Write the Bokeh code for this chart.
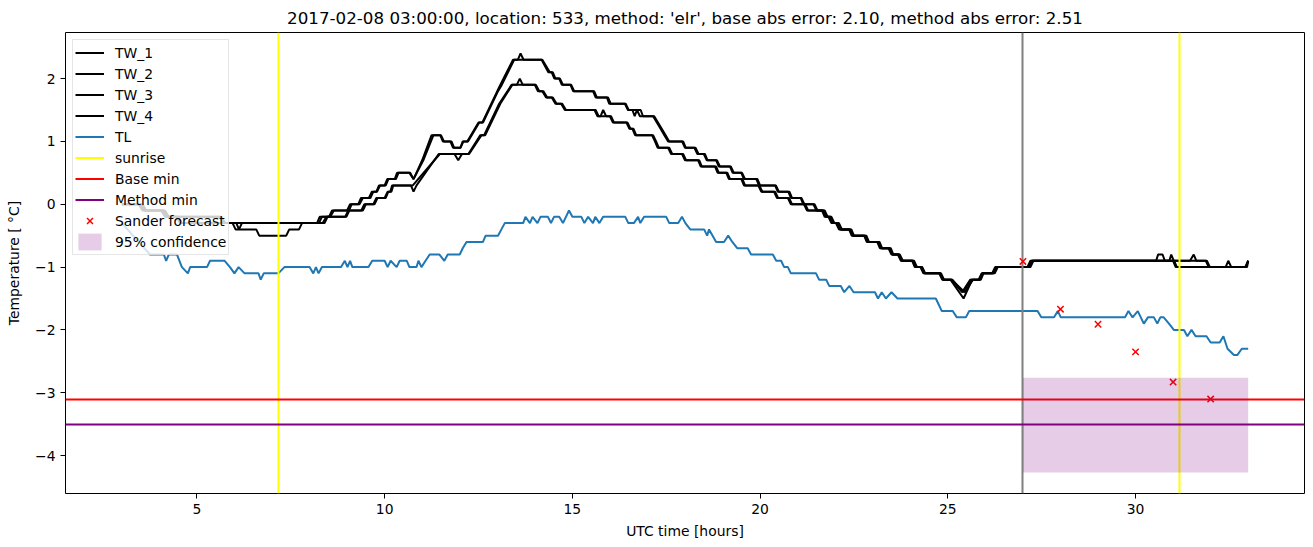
from bokeh.plotting import figure
from bokeh.models import Range1d, FixedTicker
from bokeh.embed import file_html
from bokeh.resources import INLINE

TITLE = "2017-02-08 03:00:00, location: 533, method: 'elr', base abs error: 2.10, method abs error: 2.51"

# ---- data: vertices (hour, temperature) ----
TW1 = [(3.00, 0.0), (3.45, 0.0), (3.55, -0.1), (4.05, -0.1), (4.15, -0.2), (5.60, -0.2), (5.70, -0.3),
       (8.20, -0.3), (8.27, -0.2), (8.52, -0.2), (8.60, -0.1), (9.00, -0.1), (9.08, 0.0), (9.30, 0.0),
       (9.37, 0.1), (9.58, 0.1), (9.66, 0.2), (9.78, 0.2), (9.85, 0.3), (10.00, 0.3), (10.07, 0.4),
       (10.27, 0.4), (10.33, 0.5), (10.66, 0.5), (10.77, 0.4), (11.00, 0.7), (11.25, 1.1), (11.48, 1.1),
       (11.55, 1.0), (11.75, 1.0), (11.82, 0.9), (12.02, 0.9), (12.08, 1.0), (12.20, 1.0), (12.50, 1.3),
       (12.60, 1.3), (13.00, 1.8), (13.08, 1.9), (13.42, 2.3), (13.55, 2.3), (13.62, 2.4), (13.70, 2.3),
       (14.18, 2.3), (14.27, 2.2), (14.36, 2.1), (14.45, 2.1), (14.52, 2.0), (14.65, 2.0), (14.72, 1.9),
       (14.95, 1.9), (15.02, 1.8), (15.55, 1.8), (15.62, 1.7), (15.92, 1.7), (15.98, 1.6), (16.40, 1.6),
       (16.48, 1.5), (16.60, 1.5), (16.66, 1.4), (16.72, 1.5), (16.80, 1.4), (17.15, 1.4), (17.25, 1.3),
       (17.35, 1.2), (17.45, 1.1), (17.55, 1.0), (17.92, 1.0), (18.00, 0.9), (18.25, 0.9), (18.33, 0.8),
       (18.50, 0.8), (18.58, 0.7), (18.83, 0.7), (18.90, 0.6), (19.20, 0.6), (19.27, 0.5), (19.50, 0.5),
       (19.57, 0.4), (19.90, 0.4), (19.97, 0.3), (20.40, 0.3), (20.47, 0.2), (20.75, 0.2), (20.82, 0.1),
       (21.08, 0.1), (21.15, 0.0), (21.42, 0.0), (21.50, -0.1), (21.70, -0.1), (21.77, -0.2), (21.88, -0.2),
       (21.95, -0.3), (22.08, -0.3), (22.15, -0.4), (22.40, -0.4), (22.47, -0.5), (22.80, -0.5),
       (22.87, -0.6), (23.15, -0.6), (23.22, -0.7), (23.45, -0.7), (23.52, -0.8), (23.70, -0.8),
       (23.77, -0.9), (24.08, -0.9), (24.15, -1.0), (24.30, -1.0), (24.37, -1.1), (24.80, -1.1),
       (24.87, -1.2), (25.10, -1.2), (25.38, -1.4), (25.60, -1.2), (25.85, -1.2), (25.92, -1.1),
       (26.22, -1.1), (26.30, -1.0), (27.17, -1.0), (27.25, -0.9), (30.55, -0.9), (30.60, -0.8),
       (30.72, -0.8), (30.78, -0.9), (31.45, -0.9), (31.55, -0.8), (31.62, -0.9), (31.87, -0.9),
       (31.95, -1.0), (32.95, -1.0), (33.00, -0.9)]

TW2 = [(3.00, 0.0), (3.50, 0.0), (3.60, -0.1), (4.10, -0.1), (4.20, -0.2), (5.65, -0.2), (5.75, -0.3),
       (8.25, -0.3), (8.33, -0.2), (8.55, -0.2), (8.65, -0.1), (9.05, -0.1), (9.12, 0.0), (9.33, 0.0),
       (9.42, 0.1), (9.62, 0.1), (9.70, 0.2), (9.80, 0.2), (9.88, 0.3), (10.03, 0.3), (10.10, 0.4),
       (10.30, 0.4), (10.37, 0.5), (10.68, 0.5), (10.77, 0.4), (11.03, 0.7), (11.30, 1.1), (11.50, 1.1),
       (11.58, 1.0), (11.78, 1.0), (11.85, 0.9), (12.02, 0.9), (12.10, 1.0), (12.22, 1.0), (12.52, 1.3),
       (12.62, 1.3), (13.02, 1.8), (13.12, 1.9), (13.45, 2.3), (14.20, 2.3), (14.30, 2.2), (14.40, 2.1),
       (14.48, 2.1), (14.55, 2.0), (14.67, 2.0), (14.75, 1.9), (14.97, 1.9), (15.05, 1.8), (15.58, 1.8),
       (15.65, 1.7), (15.95, 1.7), (16.02, 1.6), (16.42, 1.6), (16.50, 1.5), (16.82, 1.5), (16.88, 1.4),
       (17.18, 1.4), (17.28, 1.3), (17.38, 1.2), (17.48, 1.1), (17.58, 1.0), (17.95, 1.0), (18.02, 0.9),
       (18.28, 0.9), (18.36, 0.8), (18.53, 0.8), (18.60, 0.7), (18.85, 0.7), (18.93, 0.6), (19.22, 0.6),
       (19.30, 0.5), (19.52, 0.5), (19.60, 0.4), (19.93, 0.4), (20.00, 0.3), (20.42, 0.3), (20.50, 0.2),
       (20.78, 0.2), (20.85, 0.1), (21.10, 0.1), (21.18, 0.0), (21.45, 0.0), (21.53, -0.1), (21.72, -0.1),
       (21.80, -0.2), (21.90, -0.2), (21.98, -0.3), (22.10, -0.3), (22.18, -0.4), (22.43, -0.4),
       (22.50, -0.5), (22.83, -0.5), (22.90, -0.6), (23.18, -0.6), (23.25, -0.7), (23.48, -0.7),
       (23.55, -0.8), (23.72, -0.8), (23.80, -0.9), (24.10, -0.9), (24.18, -1.0), (24.32, -1.0),
       (24.40, -1.1), (24.82, -1.1), (24.90, -1.2), (25.12, -1.2), (25.40, -1.4), (25.62, -1.2),
       (25.88, -1.2), (25.95, -1.1), (26.25, -1.1), (26.33, -1.0), (27.20, -1.0), (27.28, -0.9),
       (30.90, -0.9), (30.95, -0.8), (31.02, -0.9), (31.90, -0.9), (31.98, -1.0), (32.97, -1.0),
       (33.00, -0.9)]

TW3 = [(3.00, 0.0), (3.50, 0.0), (3.62, -0.1), (4.10, -0.1), (4.20, -0.2), (4.45, -0.2), (4.55, -0.3),
       (5.95, -0.3), (6.03, -0.4), (6.58, -0.4), (6.66, -0.5), (7.38, -0.5), (7.46, -0.4), (7.72, -0.4),
       (7.80, -0.3), (8.35, -0.3), (8.45, -0.2), (8.95, -0.2), (9.03, -0.1), (9.38, -0.1), (9.46, 0.0),
       (9.70, 0.0), (9.78, 0.1), (10.00, 0.1), (10.08, 0.2), (10.15, 0.2), (10.20, 0.3), (10.70, 0.3),
       (10.77, 0.2), (10.85, 0.3), (11.44, 0.8), (11.86, 0.8), (11.96, 0.7), (12.06, 0.8), (12.23, 0.8),
       (12.55, 1.1), (12.65, 1.1), (13.05, 1.6), (13.38, 1.9), (13.52, 1.9), (13.60, 2.0), (13.68, 1.9),
       (14.00, 1.9), (14.08, 1.8), (14.20, 1.8), (14.30, 1.7), (14.45, 1.7), (14.55, 1.6), (14.70, 1.6),
       (14.80, 1.5), (15.59, 1.5), (15.67, 1.4), (15.75, 1.4), (15.82, 1.5), (15.90, 1.4), (16.00, 1.4),
       (16.08, 1.3), (16.44, 1.3), (16.52, 1.2), (16.60, 1.2), (16.67, 1.1), (17.12, 1.1), (17.20, 1.0),
       (17.27, 0.9), (17.55, 0.9), (17.63, 0.8), (17.92, 0.8), (18.00, 0.7), (18.35, 0.7), (18.42, 0.6),
       (18.80, 0.6), (18.87, 0.5), (19.10, 0.5), (19.17, 0.4), (19.50, 0.4), (19.57, 0.3), (19.95, 0.3),
       (20.03, 0.2), (20.37, 0.2), (20.45, 0.1), (20.74, 0.1), (20.82, 0.0), (21.17, 0.0), (21.25, -0.1),
       (21.65, -0.1), (21.72, -0.2), (21.82, -0.2), (21.90, -0.3), (22.02, -0.3), (22.10, -0.4),
       (22.37, -0.4), (22.44, -0.5), (22.77, -0.5), (22.84, -0.6), (23.12, -0.6), (23.19, -0.7),
       (23.42, -0.7), (23.50, -0.8), (23.67, -0.8), (23.75, -0.9), (24.05, -0.9), (24.12, -1.0),
       (24.27, -1.0), (24.35, -1.1), (24.77, -1.1), (24.85, -1.2), (25.07, -1.2), (25.42, -1.5),
       (25.65, -1.2), (25.82, -1.2), (25.90, -1.1), (26.18, -1.1), (26.26, -1.0), (27.12, -1.0),
       (27.20, -0.9), (31.00, -0.9), (31.07, -1.0), (32.92, -1.0), (33.00, -0.9)]

TW4 = [(3.00, 0.0), (3.55, 0.0), (3.65, -0.1), (4.15, -0.1), (4.25, -0.2), (4.50, -0.2), (4.60, -0.3),
       (6.05, -0.3), (6.12, -0.4), (6.20, -0.3), (8.40, -0.3), (8.48, -0.2), (8.98, -0.2), (9.06, -0.1),
       (9.42, -0.1), (9.50, 0.0), (9.73, 0.0), (9.81, 0.1), (10.03, 0.1), (10.10, 0.2), (10.18, 0.2),
       (10.23, 0.3), (10.75, 0.3), (11.47, 0.8), (11.88, 0.8), (12.08, 0.8), (12.25, 0.8), (12.58, 1.1),
       (12.68, 1.1), (13.08, 1.6), (13.40, 1.9), (14.03, 1.9), (14.12, 1.8), (14.23, 1.8), (14.33, 1.7),
       (14.48, 1.7), (14.58, 1.6), (14.73, 1.6), (14.83, 1.5), (15.62, 1.5), (15.70, 1.4), (16.03, 1.4),
       (16.11, 1.3), (16.47, 1.3), (16.55, 1.2), (16.63, 1.2), (16.70, 1.1), (17.15, 1.1), (17.23, 1.0),
       (17.30, 0.9), (17.58, 0.9), (17.66, 0.8), (17.95, 0.8), (18.03, 0.7), (18.38, 0.7), (18.45, 0.6),
       (18.83, 0.6), (18.90, 0.5), (19.13, 0.5), (19.20, 0.4), (19.53, 0.4), (19.60, 0.3), (19.98, 0.3),
       (20.06, 0.2), (20.40, 0.2), (20.48, 0.1), (20.77, 0.1), (20.85, 0.0), (21.20, 0.0), (21.28, -0.1),
       (21.67, -0.1), (21.75, -0.2), (21.85, -0.2), (21.93, -0.3), (22.05, -0.3), (22.13, -0.4),
       (22.40, -0.4), (22.47, -0.5), (22.80, -0.5), (22.87, -0.6), (23.15, -0.6), (23.22, -0.7),
       (23.45, -0.7), (23.53, -0.8), (23.70, -0.8), (23.78, -0.9), (24.07, -0.9), (24.15, -1.0),
       (24.30, -1.0), (24.38, -1.1), (24.80, -1.1), (24.88, -1.2), (25.10, -1.2), (25.45, -1.4),
       (25.67, -1.2), (25.85, -1.2), (25.93, -1.1), (26.20, -1.1), (26.28, -1.0), (27.15, -1.0),
       (27.23, -0.9), (31.03, -0.9), (31.10, -1.0), (32.40, -1.0), (32.47, -0.9), (32.55, -1.0),
       (32.94, -1.0), (33.00, -0.9)]

TL = [(3.00, -0.3), (3.75, -0.8), (4.12, -0.8), (4.18, -0.9), (4.25, -0.8), (4.47, -0.8), (4.60, -1.0),
      (4.76, -1.1), (4.82, -1.0), (5.27, -1.0), (5.35, -0.9), (5.74, -0.9), (5.88, -1.0), (6.00, -1.1),
      (6.11, -1.0), (6.27, -1.1), (6.64, -1.1), (6.70, -1.2), (6.78, -1.1), (7.17, -1.1), (7.33, -1.0),
      (8.00, -1.0), (8.10, -1.1), (8.17, -1.0), (8.24, -1.1), (8.33, -1.0), (8.84, -1.0), (8.94, -0.9),
      (9.01, -1.0), (9.08, -0.9), (9.14, -1.0), (9.57, -1.0), (9.67, -0.9), (10.00, -0.9), (10.08, -1.0),
      (10.16, -0.9), (10.32, -1.0), (10.40, -0.9), (10.59, -0.9), (10.66, -1.0), (10.85, -1.0),
      (10.90, -0.9), (10.98, -1.0), (11.09, -0.9), (11.20, -0.8), (11.46, -0.8), (11.59, -0.9),
      (11.68, -0.8), (12.00, -0.8), (12.08, -0.7), (12.18, -0.6), (12.62, -0.6), (12.69, -0.5),
      (13.02, -0.5), (13.11, -0.4), (13.20, -0.3), (13.69, -0.3), (13.75, -0.2), (13.87, -0.3),
      (13.94, -0.2), (14.07, -0.3), (14.15, -0.2), (14.35, -0.2), (14.43, -0.3), (14.51, -0.2),
      (14.65, -0.2), (14.75, -0.3), (14.91, -0.1), (15.00, -0.2), (15.24, -0.2), (15.32, -0.3),
      (15.42, -0.2), (15.55, -0.3), (15.61, -0.2), (15.72, -0.3), (15.82, -0.2), (16.41, -0.2),
      (16.49, -0.3), (16.64, -0.3), (16.75, -0.2), (16.81, -0.3), (16.91, -0.2), (17.50, -0.2),
      (17.58, -0.3), (17.82, -0.3), (17.92, -0.2), (18.01, -0.3), (18.14, -0.4), (18.51, -0.4),
      (18.59, -0.5), (18.64, -0.4), (18.83, -0.6), (19.04, -0.6), (19.15, -0.5), (19.26, -0.6),
      (19.39, -0.7), (19.67, -0.7), (19.76, -0.8), (20.34, -0.8), (20.43, -0.9), (20.56, -0.9),
      (20.64, -1.0), (20.74, -1.0), (20.82, -1.1), (21.49, -1.1), (21.57, -1.2), (21.76, -1.2),
      (21.84, -1.3), (22.15, -1.3), (22.24, -1.4), (22.38, -1.3), (22.49, -1.4), (23.06, -1.4),
      (23.14, -1.5), (23.24, -1.4), (23.35, -1.5), (23.50, -1.4), (23.66, -1.5), (24.68, -1.5),
      (24.76, -1.6), (24.84, -1.7), (25.13, -1.7), (25.24, -1.8), (25.48, -1.8), (25.57, -1.7),
      (27.39, -1.7), (27.49, -1.8), (27.83, -1.8), (27.93, -1.7), (28.01, -1.8), (29.72, -1.8),
      (29.81, -1.7), (29.92, -1.8), (30.06, -1.7), (30.22, -1.9), (30.33, -1.8), (30.49, -1.8),
      (30.58, -1.9), (30.66, -1.8), (30.75, -1.8), (30.89, -1.9), (31.02, -2.0), (31.29, -2.0),
      (31.38, -2.1), (31.49, -2.0), (31.60, -2.1), (31.89, -2.1), (32.00, -2.2), (32.24, -2.2),
      (32.34, -2.1), (32.45, -2.3), (32.62, -2.4), (32.71, -2.4), (32.83, -2.3), (33.00, -2.3)]

SUNRISE = [7.18, 31.16]
FORECAST_START = [27.0]
BASE_MIN = [-3.1]
METHOD_MIN = [-3.5]
FC_T = [27, 28, 29, 30, 31, 32]
FC_V = [-0.91, -1.67, -1.91, -2.35, -2.83, -3.10]
BAND_LEFT = [27.0]
BAND_RIGHT = [33.0]
BAND_LO = [-4.27]
BAND_HI = [-2.76]

X_TICKS = [5, 10, 15, 20, 25, 30]
Y_TICKS = [-4, -3, -2, -1, 0, 1, 2]

FONT = "DejaVu Sans"

p = figure(width=1313, height=547,
           x_range=Range1d(1.5, 34.5), y_range=Range1d(-4.6035, 2.7335),
           output_backend="svg", toolbar_location=None,
           min_border_left=65, min_border_right=9, min_border_top=32, min_border_bottom=54,
           title=TITLE)

p.background_fill_color = "white"
p.border_fill_color = "white"
p.outline_line_color = "black"
p.outline_line_alpha = 1.0
p.outline_line_width = 1
p.xgrid.grid_line_color = None
p.ygrid.grid_line_color = None

p.title.text_font = FONT
p.title.text_font_size = "16.7px"
p.title.text_font_style = "normal"
p.title.align = "center"
p.title.text_color = "black"

for name, pts in [("TW_1", TW1), ("TW_2", TW2), ("TW_3", TW3), ("TW_4", TW4)]:
    xs = [a for a, b in pts]
    ys = [b for a, b in pts]
    p.line(xs, ys, line_color="black", line_width=2, legend_label=name)

p.line([a for a, b in TL], [b for a, b in TL], line_color="#1f77b4", line_width=2, legend_label="TL")
p.vspan(x=FORECAST_START, line_color="gray", line_width=2)
p.vspan(x=SUNRISE, line_color="#ffff00", line_width=2, legend_label="sunrise")
p.hspan(y=BASE_MIN, line_color="red", line_width=2, legend_label="Base min")
p.hspan(y=METHOD_MIN, line_color="purple", line_width=2, legend_label="Method min")
p.scatter(FC_T, FC_V, marker="x", size=9, line_color="red", line_width=1.5, legend_label="Sander forecast")
p.quad(left=BAND_LEFT, right=BAND_RIGHT, bottom=BAND_LO, top=BAND_HI,
       fill_color="purple", fill_alpha=0.2, line_color=None, legend_label="95% confidence")

# axes
for ax in (p.xaxis[0], p.yaxis[0]):
    ax.major_label_text_font = FONT
    ax.major_label_text_font_size = "13.9px"
    ax.major_label_text_color = "black"
    ax.axis_label_text_font = FONT
    ax.axis_label_text_font_size = "13.9px"
    ax.axis_label_text_font_style = "normal"
    ax.axis_label_text_color = "black"
    ax.major_tick_out = 5
    ax.major_tick_in = 0
    ax.major_tick_line_color = "black"
    ax.minor_tick_line_color = None
    ax.axis_line_color = None

p.xaxis.ticker = FixedTicker(ticks=X_TICKS)
p.yaxis.ticker = FixedTicker(ticks=Y_TICKS)
p.yaxis.major_label_overrides = {t: (str(t) if t >= 0 else "\u2212" + str(-t)) for t in Y_TICKS}
p.xaxis.axis_label = "UTC time [hours]"
p.yaxis.axis_label = "Temperature [ \u00b0C]"
p.yaxis.axis_label_standoff = 10
p.xaxis.axis_label_standoff = 6

lg = p.legend[0]
lg.location = "top_left"
lg.margin = 7
lg.padding = 2
lg.spacing = 0
lg.glyph_width = 29
lg.glyph_height = 21
lg.label_height = 21
lg.label_standoff = 11
lg.label_text_font = FONT
lg.label_text_font_size = "13.9px"
lg.label_text_color = "black"
lg.background_fill_color = "white"
lg.background_fill_alpha = 0.8
lg.border_line_color = "#cccccc"
lg.border_line_width = 1

open("out.html", "w").write(file_html(p, INLINE))
